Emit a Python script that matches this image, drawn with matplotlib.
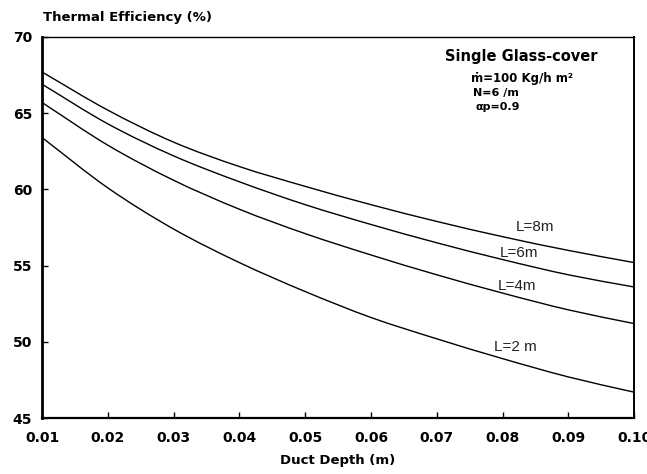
import matplotlib
matplotlib.use("Agg")
import matplotlib.pyplot as plt
import numpy as np
from matplotlib.path import Path
from matplotlib.patches import PathPatch

# Duct depth (m) and thermal efficiency (%) for each collector length
duct_depth = [0.01, 0.02, 0.03, 0.04, 0.05, 0.06, 0.07, 0.08, 0.09, 0.10]
eff_L8 = [67.7, 65.2, 63.1, 61.5, 60.2, 59.0, 57.9, 56.9, 56.0, 55.2]
eff_L6 = [66.9, 64.3, 62.2, 60.5, 59.0, 57.7, 56.5, 55.4, 54.4, 53.6]
eff_L4 = [65.7, 62.9, 60.6, 58.7, 57.1, 55.7, 54.4, 53.2, 52.1, 51.2]
eff_L2 = [63.4, 60.1, 57.4, 55.2, 53.3, 51.6, 50.2, 48.9, 47.7, 46.7]

series_labels = ["L=8m", "L=6m", "L=4m", "L=2 m"]
label_pos = [(0.0849, 57.55), (0.0825, 55.85), (0.0822, 53.65), (0.0820, 49.65)]

x_ticks = [0.01, 0.02, 0.03, 0.04, 0.05, 0.06, 0.07, 0.08, 0.09, 0.10]
x_tick_labels = ["0.01", "0.02", "0.03", "0.04", "0.05", "0.06", "0.07", "0.08", "0.09", "0.10"]
y_ticks = [45, 50, 55, 60, 65, 70]

BOLD = ["DejaVu Sans"]
plt.rcParams["font.family"] = ["Liberation Sans", "DejaVu Sans"]


def smooth_path(xs, ys):
    """Catmull-Rom curve through the points, as cubic Bezier segments."""
    p = np.column_stack([xs, ys]).astype(float)
    ext = np.vstack([2 * p[0] - p[1], p, 2 * p[-1] - p[-2]])
    verts = [p[0]]
    codes = [Path.MOVETO]
    for i in range(1, len(ext) - 2):
        p0, p1, p2, p3 = ext[i - 1], ext[i], ext[i + 1], ext[i + 2]
        verts += [p1 + (p2 - p0) / 6, p2 - (p3 - p1) / 6, p2]
        codes += [Path.CURVE4] * 3
    return Path(verts, codes)


fig = plt.figure(figsize=(6.47, 4.74), dpi=100)
ax = fig.add_axes([0.065, 0.118, 0.915, 0.804])

for ys in (eff_L8, eff_L6, eff_L4, eff_L2):
    ax.add_patch(PathPatch(smooth_path(duct_depth, ys), facecolor="none",
                           edgecolor="black", lw=1.0))

for text, (tx, ty) in zip(series_labels, label_pos):
    ax.text(tx, ty, text, fontsize=11, ha="center", va="center", color="#222222")

ax.set_xlim(0.01, 0.10)
ax.set_ylim(45, 70)
ax.set_xticks(x_ticks)
ax.set_xticklabels(x_tick_labels)
ax.set_yticks(y_ticks)
ax.tick_params(direction="in", length=4, width=1.0, labelsize=10)
ax.tick_params(axis="x", pad=9)
ax.tick_params(axis="y", pad=7)
for lab in ax.get_xticklabels() + ax.get_yticklabels():
    lab.set_fontweight("bold")
    lab.set_family(BOLD)

ax.spines["left"].set_linewidth(2.0)
ax.spines["bottom"].set_linewidth(1.6)
ax.spines["right"].set_linewidth(1.4)
ax.spines["top"].set_linewidth(1.0)

ax.set_xlabel("Duct Depth (m)", fontsize=9.5, fontweight="bold", family=BOLD, labelpad=7)
fig.text(0.066, 0.963, "Thermal Efficiency (%)", fontsize=9.5, fontweight="bold",
         family=BOLD, ha="left", va="center")

# Operating conditions
ax.text(0.81, 0.95, "Single Glass-cover", transform=ax.transAxes,
        fontsize=10.5, fontweight="bold", family=BOLD, ha="center", va="center")
ax.text(0.725, 0.892, "\u1e41=100 Kg/h m\u00b2", transform=ax.transAxes,
        fontsize=8.5, fontweight="bold", family=BOLD, ha="left", va="center")
ax.text(0.728, 0.853, "N=6 /m", transform=ax.transAxes,
        fontsize=8, fontweight="bold", family=BOLD, ha="left", va="center")
ax.text(0.733, 0.816, "\u03b1p=0.9", transform=ax.transAxes,
        fontsize=8, fontweight="bold", family=BOLD, ha="left", va="center")

fig.savefig("out.png", dpi=100)
